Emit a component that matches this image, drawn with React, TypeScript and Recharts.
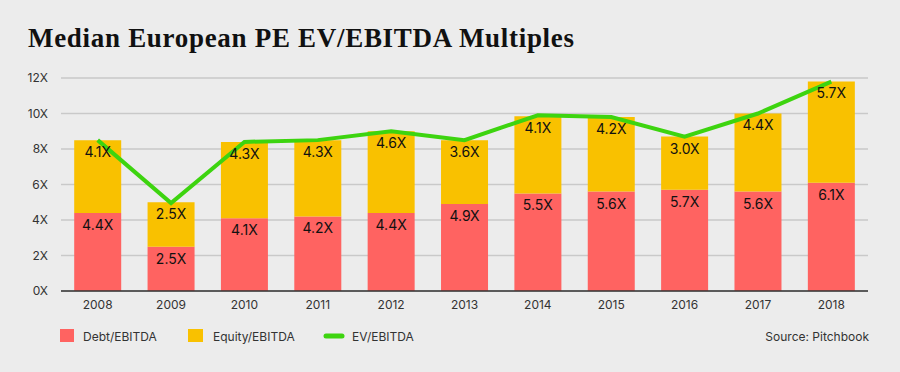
import React from 'react'
import {
  ComposedChart, Bar, Line, XAxis, YAxis, CartesianGrid, LabelList, ReferenceLine,
} from 'recharts'

const years = ['2008', '2009', '2010', '2011', '2012', '2013', '2014', '2015', '2016', '2017', '2018']
const debt = [4.4, 2.5, 4.1, 4.2, 4.4, 4.9, 5.5, 5.6, 5.7, 5.6, 6.1]
const equity = [4.1, 2.5, 4.3, 4.3, 4.6, 3.6, 4.35, 4.2, 3.0, 4.4, 5.7]
const equityLabels = ['4.1X', '2.5X', '4.3X', '4.3X', '4.6X', '3.6X', '4.1X', '4.2X', '3.0X', '4.4X', '5.7X']
const ev = [8.5, 4.95, 8.4, 8.5, 9.0, 8.5, 9.9, 9.8, 8.7, 10.0, 11.8]
const yTicks = [0, 2, 4, 6, 8, 10, 12]

const RED = '#ff6361'
const YELLOW = '#f9c100'
const GREEN = '#3dd40f'
const SANS = 'Inter, "Noto Sans", sans-serif'

const data = years.map((year, i) => ({
  year,
  debt: debt[i],
  equity: equity[i],
  equityLabel: equityLabels[i],
  ev: ev[i],
}))

const fmtX = (v: number) => `${v.toFixed(1)}X`

export default function App() {
  return (
    <div style={{ position: 'fixed', top: 0, left: 0, width: 900, height: 372, background: '#ececec' }}>
      <ComposedChart
        width={900}
        height={372}
        data={data}
        margin={{ top: 78, right: 32, bottom: 51, left: 0 }}
        barCategoryGap="18%"
      >
        <CartesianGrid vertical={false} stroke="#c9c9c9" strokeWidth={1.5} />
        <XAxis
          dataKey="year"
          height={30}
          tickSize={0}
          tickMargin={9}
          axisLine={false}
          tick={{ fontSize: 12, fill: '#333', fontFamily: SANS }}
        />
        <YAxis
          width={61}
          domain={[0, 12]}
          ticks={yTicks}
          tickSize={0}
          tickMargin={13}
          axisLine={false}
          tickFormatter={(v) => `${v}X`}
          tick={{ fontSize: 12, fill: '#333', fontFamily: SANS }}
        />
        <Bar dataKey="debt" stackId="a" fill={RED} isAnimationActive={false}>
          <LabelList
            dataKey="debt"
            position="insideTop"
            offset={7}
            formatter={(v: any) => fmtX(Number(v))}
            style={{ fontSize: 14, fill: '#111', fontFamily: SANS }}
          />
        </Bar>
        <Bar dataKey="equity" stackId="a" fill={YELLOW} isAnimationActive={false}>
          <LabelList
            dataKey="equityLabel"
            position="insideTop"
            offset={7}
            style={{ fontSize: 14, fill: '#111', fontFamily: SANS }}
          />
        </Bar>
        <ReferenceLine y={0} stroke="#333" strokeWidth={1.5} />
        <Line
          dataKey="ev"
          type="linear"
          stroke={GREEN}
          strokeWidth={4}
          dot={false}
          activeDot={false}
          isAnimationActive={false}
        />
      </ComposedChart>
      <svg width={900} height={372} style={{ position: 'absolute', top: 0, left: 0, pointerEvents: 'none' }}>
        <text
          x={28}
          y={47}
          fontFamily='"Liberation Serif", serif'
          fontWeight="bold"
          fontSize={27}
          letterSpacing={0.7}
          fill="#111"
        >
          Median European PE EV/EBITDA Multiples
        </text>
        <g fontFamily={SANS} fontSize={12} fill="#333">
          <rect x={60} y={329} width={14} height={13} fill={RED} />
          <text x={83} y={341}>Debt/EBITDA</text>
          <rect x={188} y={329} width={15} height={13} fill={YELLOW} />
          <text x={213} y={341}>Equity/EBITDA</text>
          <line x1={326} y1={336} x2={342} y2={336} stroke={GREEN} strokeWidth={5} strokeLinecap="round" />
          <text x={352} y={341}>EV/EBITDA</text>
          <text x={869} y={341} textAnchor="end">Source: Pitchbook</text>
        </g>
      </svg>
    </div>
  )
}
